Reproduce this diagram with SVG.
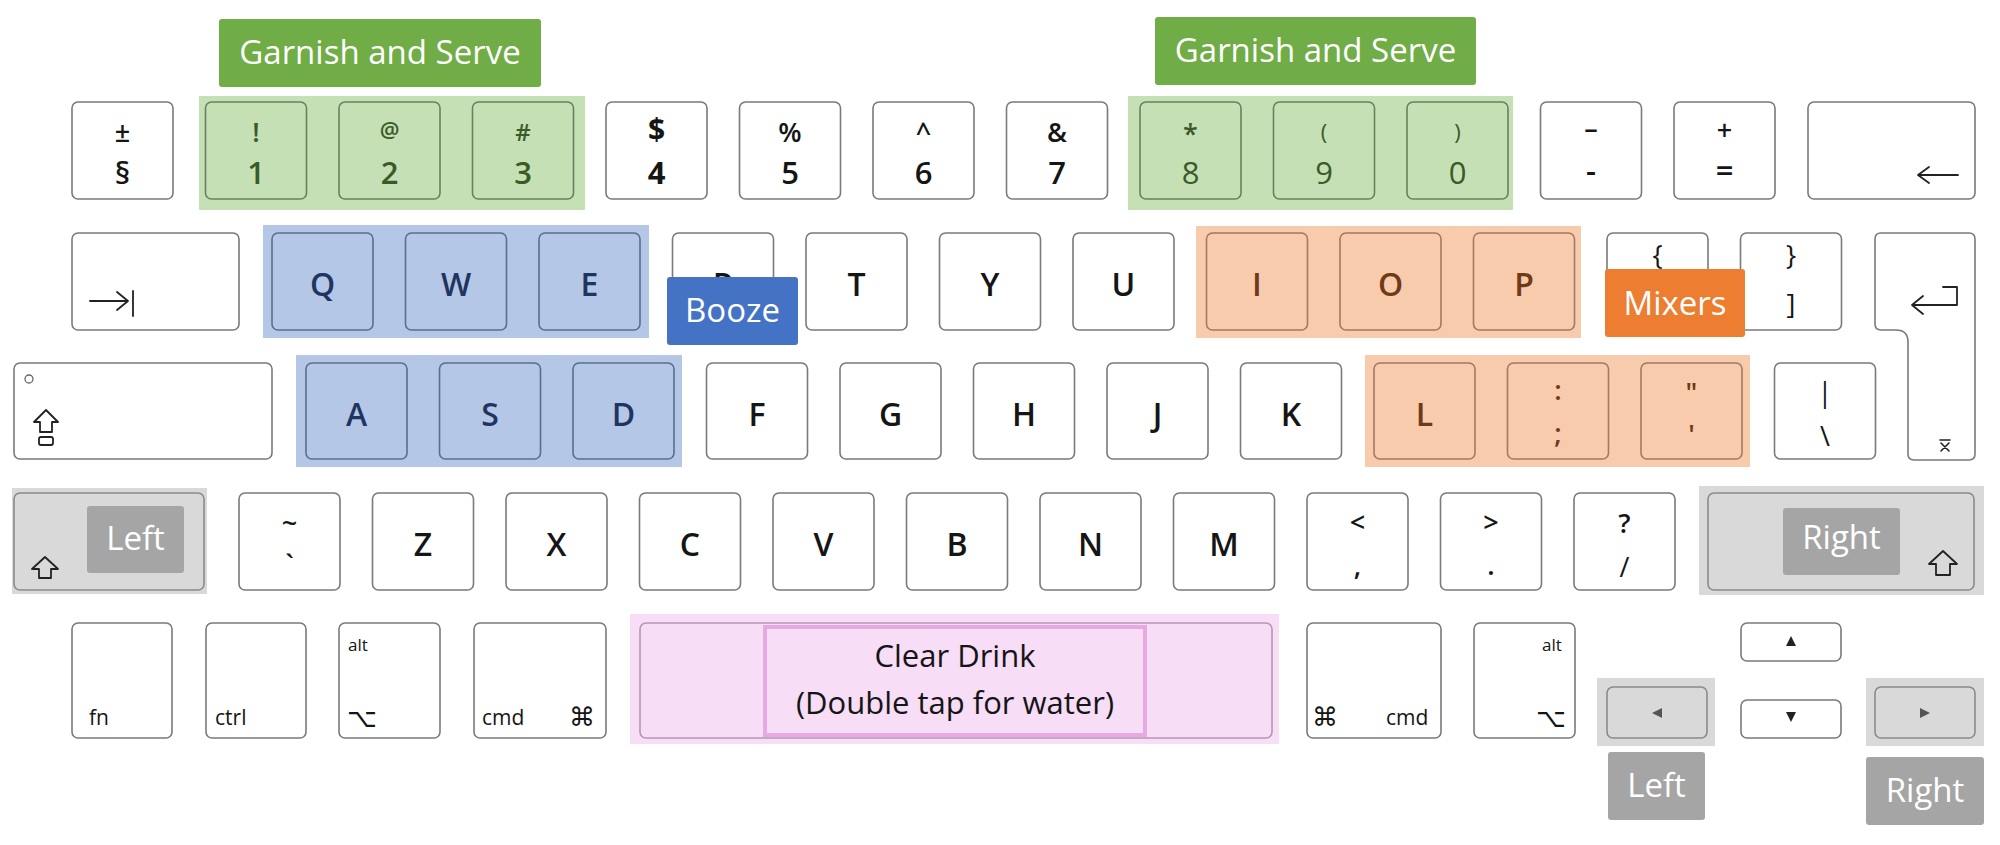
<svg xmlns="http://www.w3.org/2000/svg" width="2000" height="845" viewBox="0 0 2000 845">
<style>
.k{fill:#fff;stroke:#7a7a7a;stroke-width:1.6}
.kg{fill:none;stroke:#6b8060;stroke-width:1.6}
.kb{fill:none;stroke:#5d6d8c;stroke-width:1.6}
.ko{fill:none;stroke:#a07a62;stroke-width:1.6}
.ks{fill:none;stroke:#8a8a8a;stroke-width:1.6}
.kp{fill:none;stroke:#b596b2;stroke-width:1.6}
.t{font-family:"Open Sans","Liberation Sans",sans-serif;font-weight:600;text-anchor:middle;fill:#151515}
.L{font-size:32px}
.S{font-size:27px}
.D{font-size:31px}
.tg{fill:#3a5a28}
.tb{fill:#1f3560}
.to{fill:#6e3a18}
.sm{font-family:"Open Sans","Liberation Sans",sans-serif;font-size:21px;fill:#151515}
.al{font-family:"Open Sans","Liberation Sans",sans-serif;font-size:17px;fill:#151515}
.sym{font-family:"DejaVu Sans",sans-serif;font-size:26px;fill:#151515}
.lab{font-family:"Open Sans","Liberation Sans",sans-serif;font-size:33px;fill:#fff;text-anchor:middle}
.ic{fill:none;stroke:#222;stroke-width:1.8;stroke-linejoin:round;stroke-linecap:round}
.tri{fill:#222}
</style>

<g id="highlights">
<rect x="199" y="96" width="386" height="114" fill="#c5e0b4"/>
<rect x="1128" y="96" width="385" height="114" fill="#c5e0b4"/>
<rect x="263" y="225" width="386" height="113" fill="#b4c7e7"/>
<rect x="296" y="355" width="386" height="112" fill="#b4c7e7"/>
<rect x="1196" y="226" width="385" height="112" fill="#f8cbad"/>
<rect x="1365" y="355" width="385" height="112" fill="#f8cbad"/>
<rect x="12" y="488" width="195" height="106" fill="#d9d9d9"/>
<rect x="1699" y="486" width="285" height="109" fill="#d9d9d9"/>
<rect x="630" y="614" width="649" height="130" fill="#f7ddf5"/>
<rect x="1597" y="678" width="118" height="68" fill="#d9d9d9"/>
<rect x="1866" y="678" width="118" height="68" fill="#d9d9d9"/>
</g>

<!-- Row 1 -->
<g id="key-section"><rect class="k" x="72" y="102" width="101" height="97" rx="6"/><text class="t S" x="122.5" y="142">±</text><text class="t D" x="122.5" y="184">§</text></g>
<g id="key-1"><rect class="kg" x="205.5" y="102" width="101" height="97" rx="6"/><text class="t S tg" x="256" y="142">!</text><text class="t D tg" x="256" y="184">1</text></g>
<g id="key-2"><rect class="kg" x="339" y="102" width="101" height="97" rx="6"/><text class="t S tg" x="389.5" y="138" style="font-size:22px">@</text><text class="t D tg" x="389.5" y="184">2</text></g>
<g id="key-3"><rect class="kg" x="472.5" y="102" width="101" height="97" rx="6"/><text class="t S tg" x="523" y="141" style="font-size:24px">#</text><text class="t D tg" x="523" y="184">3</text></g>
<g id="key-4"><rect class="k" x="606" y="102" width="101" height="97" rx="6"/><text class="t S" x="656.5" y="140" style="font-size:30px;font-weight:700">$</text><text class="t D" x="656.5" y="184" style="font-weight:700">4</text></g>
<g id="key-5"><rect class="k" x="739.5" y="102" width="101" height="97" rx="6"/><text class="t S" x="790" y="142">%</text><text class="t D" x="790" y="184">5</text></g>
<g id="key-6"><rect class="k" x="873" y="102" width="101" height="97" rx="6"/><text class="t S" x="923.5" y="142">^</text><text class="t D" x="923.5" y="184">6</text></g>
<g id="key-7"><rect class="k" x="1006.5" y="102" width="101" height="97" rx="6"/><text class="t S" x="1057" y="142">&amp;</text><text class="t D" x="1057" y="184">7</text></g>
<g id="key-8"><rect class="kg" x="1140" y="102" width="101" height="97" rx="6"/><text class="t S tg" x="1190.5" y="144">*</text><text class="t D tg" x="1190.5" y="184" style="font-weight:400">8</text></g>
<g id="key-9"><rect class="kg" x="1273.5" y="102" width="101" height="97" rx="6"/><text class="t S tg" x="1324" y="140" style="font-size:22px;font-weight:400">(</text><text class="t D tg" x="1324" y="184" style="font-weight:400">9</text></g>
<g id="key-0"><rect class="kg" x="1407" y="102" width="101" height="97" rx="6"/><text class="t S tg" x="1457.5" y="140" style="font-size:22px;font-weight:400">)</text><text class="t D tg" x="1457.5" y="184" style="font-weight:400">0</text></g>
<g id="key-minus"><rect class="k" x="1540.5" y="102" width="101" height="97" rx="6"/><text class="t S" x="1591" y="138">–</text><text class="t D" x="1591" y="182">-</text></g>
<g id="key-equals"><rect class="k" x="1674" y="102" width="101" height="97" rx="6"/><text class="t S" x="1724.5" y="140">+</text><text class="t D" x="1724.5" y="182">=</text></g>
<g id="key-backspace"><rect class="k" x="1808" y="102" width="167" height="97" rx="6"/><path class="ic" d="M1918,175 H1958 M1929,167 L1918,175 L1929,183"/></g>

<!-- Row 2 -->
<g id="key-tab"><rect class="k" x="72" y="233" width="167" height="97" rx="6"/><path class="ic" d="M90,301 H128 M117,292 L128,301 L117,310 M133,291 V316"/></g>
<g id="key-q"><rect class="kb" x="272" y="233" width="101" height="97" rx="6"/><text class="t L tb" x="322.5" y="296">Q</text></g>
<g id="key-w"><rect class="kb" x="405.5" y="233" width="101" height="97" rx="6"/><text class="t L tb" x="456" y="296">W</text></g>
<g id="key-e"><rect class="kb" x="539" y="233" width="101" height="97" rx="6"/><text class="t L tb" x="589.5" y="296">E</text></g>
<g id="key-r"><rect class="k" x="672.5" y="233" width="101" height="97" rx="6"/><text class="t L" x="723" y="296">R</text></g>
<g id="key-t"><rect class="k" x="806" y="233" width="101" height="97" rx="6"/><text class="t L" x="856.5" y="296">T</text></g>
<g id="key-y"><rect class="k" x="939.5" y="233" width="101" height="97" rx="6"/><text class="t L" x="990" y="296">Y</text></g>
<g id="key-u"><rect class="k" x="1073" y="233" width="101" height="97" rx="6"/><text class="t L" x="1123.5" y="296">U</text></g>
<g id="key-i"><rect class="ko" x="1206.5" y="233" width="101" height="97" rx="6"/><text class="t L to" x="1257" y="296">I</text></g>
<g id="key-o"><rect class="ko" x="1340" y="233" width="101" height="97" rx="6"/><text class="t L to" x="1390.5" y="296">O</text></g>
<g id="key-p"><rect class="ko" x="1473.5" y="233" width="101" height="97" rx="6"/><text class="t L to" x="1524" y="296">P</text></g>
<g id="key-lbrace"><rect class="k" x="1607" y="233" width="101" height="97" rx="6"/><text class="t S" x="1657.5" y="265" style="font-weight:400">{</text></g>
<g id="key-rbrace"><rect class="k" x="1740.5" y="233" width="101" height="97" rx="6"/><text class="t S" x="1791" y="265" style="font-weight:400">}</text><text class="t S" x="1791" y="314" style="font-weight:400">]</text></g>
<g id="key-enter"><path class="k" d="M1881,233 H1969 Q1975,233 1975,239 V454 Q1975,460 1969,460 H1914 Q1908,460 1908,454 V342 Q1908,330 1896,330 H1881 Q1875,330 1875,324 V239 Q1875,233 1881,233 Z"/><path class="ic" d="M1943,287 H1957 V305 H1912 M1923,296 L1912,305 L1923,314"/><path class="ic" style="stroke-width:1.6" d="M1940,440 H1950 M1941,451 L1949,443 M1941,443 L1949,451"/></g>

<!-- Row 3 -->
<g id="key-caps"><rect class="k" x="14" y="363" width="258" height="96" rx="6"/><circle cx="29" cy="379" r="4" fill="none" stroke="#666" stroke-width="1.3"/><path class="ic" d="M46,410 L58,422 H52 V432 H40 V422 H34 Z"/><rect x="39" y="437" width="14" height="8" rx="2" fill="none" stroke="#222" stroke-width="1.8"/></g>
<g id="key-a"><rect class="kb" x="306" y="363" width="101" height="96" rx="6"/><text class="t L tb" x="356.5" y="426">A</text></g>
<g id="key-s"><rect class="kb" x="439.5" y="363" width="101" height="96" rx="6"/><text class="t L tb" x="490" y="426">S</text></g>
<g id="key-d"><rect class="kb" x="573" y="363" width="101" height="96" rx="6"/><text class="t L tb" x="623.5" y="426">D</text></g>
<g id="key-f"><rect class="k" x="706.5" y="363" width="101" height="96" rx="6"/><text class="t L" x="757" y="426">F</text></g>
<g id="key-g"><rect class="k" x="840" y="363" width="101" height="96" rx="6"/><text class="t L" x="890.5" y="426">G</text></g>
<g id="key-h"><rect class="k" x="973.5" y="363" width="101" height="96" rx="6"/><text class="t L" x="1024" y="426">H</text></g>
<g id="key-j"><rect class="k" x="1107" y="363" width="101" height="96" rx="6"/><text class="t L" x="1157.5" y="426">J</text></g>
<g id="key-k"><rect class="k" x="1240.5" y="363" width="101" height="96" rx="6"/><text class="t L" x="1291" y="426">K</text></g>
<g id="key-l"><rect class="ko" x="1374" y="363" width="101" height="96" rx="6"/><text class="t L to" x="1424.5" y="426">L</text></g>
<g id="key-semicolon"><rect class="ko" x="1507.5" y="363" width="101" height="96" rx="6"/><text class="t S to" x="1558" y="400">:</text><text class="t S to" x="1558" y="443">;</text></g>
<g id="key-quote"><rect class="ko" x="1641" y="363" width="101" height="96" rx="6"/><text class="t S to" x="1691.5" y="402">"</text><text class="t S to" x="1691.5" y="444">'</text></g>
<g id="key-backslash"><rect class="k" x="1774.5" y="363" width="101" height="96" rx="6"/><text class="t S" x="1825" y="402" style="font-weight:400">|</text><text class="t S" x="1825" y="446" style="font-weight:400">\</text></g>

<!-- Row 4 -->
<g id="key-lshift"><rect class="ks" x="14" y="493" width="190" height="97" rx="6"/><path class="ic" d="M45,557 L58,569 H51 V578 H39 V569 H32 Z"/></g>
<g id="key-tilde"><rect class="k" x="239" y="493" width="101" height="97" rx="6"/><text class="t S" x="289.5" y="533">~</text><text class="t S" x="289.5" y="575">`</text></g>
<g id="key-z"><rect class="k" x="372.5" y="493" width="101" height="97" rx="6"/><text class="t L" x="423" y="556">Z</text></g>
<g id="key-x"><rect class="k" x="506" y="493" width="101" height="97" rx="6"/><text class="t L" x="556.5" y="556">X</text></g>
<g id="key-c"><rect class="k" x="639.5" y="493" width="101" height="97" rx="6"/><text class="t L" x="690" y="556">C</text></g>
<g id="key-v"><rect class="k" x="773" y="493" width="101" height="97" rx="6"/><text class="t L" x="823.5" y="556">V</text></g>
<g id="key-b"><rect class="k" x="906.5" y="493" width="101" height="97" rx="6"/><text class="t L" x="957" y="556">B</text></g>
<g id="key-n"><rect class="k" x="1040" y="493" width="101" height="97" rx="6"/><text class="t L" x="1090.5" y="556">N</text></g>
<g id="key-m"><rect class="k" x="1173.5" y="493" width="101" height="97" rx="6"/><text class="t L" x="1224" y="556">M</text></g>
<g id="key-comma"><rect class="k" x="1307" y="493" width="101" height="97" rx="6"/><text class="t S" x="1357.5" y="532">&lt;</text><text class="t S" x="1357.5" y="575">,</text></g>
<g id="key-period"><rect class="k" x="1440.5" y="493" width="101" height="97" rx="6"/><text class="t S" x="1491" y="532">&gt;</text><text class="t S" x="1491" y="575">.</text></g>
<g id="key-slash"><rect class="k" x="1574" y="493" width="101" height="97" rx="6"/><text class="t S" x="1624.5" y="533">?</text><text class="t S" x="1624.5" y="577" style="font-weight:400">/</text></g>
<g id="key-rshift"><rect class="ks" x="1708" y="493" width="266" height="97" rx="6"/><path class="ic" d="M1943,551 L1957,564 H1950 V575 H1936 V564 H1929 Z"/></g>

<!-- Row 5 -->
<g id="key-fn"><rect class="k" x="72" y="623" width="100" height="115" rx="6"/><text class="sm" x="89" y="725">fn</text></g>
<g id="key-ctrl"><rect class="k" x="206" y="623" width="100" height="115" rx="6"/><text class="sm" x="215" y="725">ctrl</text></g>
<g id="key-alt-left"><rect class="k" x="339" y="623" width="101" height="115" rx="6"/><text class="al" x="348" y="651">alt</text><text class="sym" x="347" y="727">⌥</text></g>
<g id="key-cmd-left"><rect class="k" x="474" y="623" width="132" height="115" rx="6"/><text class="sm" x="482" y="725">cmd</text><text class="sym" x="569" y="726">⌘</text></g>
<g id="key-space"><rect class="kp" x="640" y="623" width="632" height="115" rx="6"/><rect x="765" y="627" width="380" height="108" fill="#f7ddf5" stroke="#e8a8e2" stroke-width="4"/><text class="t" style="font-weight:400;font-size:31px" x="955" y="667">Clear Drink</text><text class="t" style="font-weight:400;font-size:31px" x="955" y="714">(Double tap for water)</text></g>
<g id="key-cmd-right"><rect class="k" x="1307" y="623" width="134" height="115" rx="6"/><text class="sym" x="1312" y="726">⌘</text><text class="sm" x="1386" y="725">cmd</text></g>
<g id="key-alt-right"><rect class="k" x="1474" y="623" width="101" height="115" rx="6"/><text class="al" x="1542" y="651">alt</text><text class="sym" x="1536" y="727">⌥</text></g>
<g id="key-up"><rect class="k" x="1741" y="623" width="100" height="38" rx="6"/><polygon class="tri" points="1791,636 1796,646 1786,646"/></g>
<g id="key-down"><rect class="k" x="1741" y="700" width="100" height="38" rx="6"/><polygon class="tri" points="1786,712 1796,712 1791,722"/></g>
<g id="key-left"><rect class="ks" x="1607" y="687" width="100" height="51" rx="6"/><polygon class="tri" points="1652,713 1662,708 1662,718" style="fill:#555"/></g>
<g id="key-right"><rect class="ks" x="1875" y="687" width="100" height="51" rx="6"/><polygon class="tri" points="1930,713 1920,708 1920,718" style="fill:#555"/></g>

<!-- Labels -->
<g id="label-garnish-1"><rect x="219" y="19" width="322" height="68" rx="3" fill="#70ad47"/><text class="lab" x="380" y="64">Garnish and Serve</text></g>
<g id="label-garnish-2"><rect x="1155" y="17" width="321" height="68" rx="3" fill="#70ad47"/><text class="lab" x="1315.5" y="62">Garnish and Serve</text></g>
<g id="label-booze"><rect x="667" y="277" width="131" height="68" rx="3" fill="#4472c4"/><text class="lab" x="732.5" y="322">Booze</text></g>
<g id="label-mixers"><rect x="1605" y="269" width="140" height="68" rx="3" fill="#ed7d31"/><text class="lab" x="1675" y="315">Mixers</text></g>
<g id="label-left-shift"><rect x="87" y="506" width="97" height="67" rx="3" fill="#a5a5a5"/><text class="lab" x="135.5" y="550">Left</text></g>
<g id="label-right-shift"><rect x="1783" y="508" width="117" height="67" rx="3" fill="#a5a5a5"/><text class="lab" x="1841.5" y="549">Right</text></g>
<g id="label-left-arrow"><rect x="1608" y="752" width="97" height="68" rx="3" fill="#a5a5a5"/><text class="lab" x="1656.5" y="797">Left</text></g>
<g id="label-right-arrow"><rect x="1866" y="757" width="118" height="68" rx="3" fill="#a5a5a5"/><text class="lab" x="1925" y="802">Right</text></g>
</svg>
